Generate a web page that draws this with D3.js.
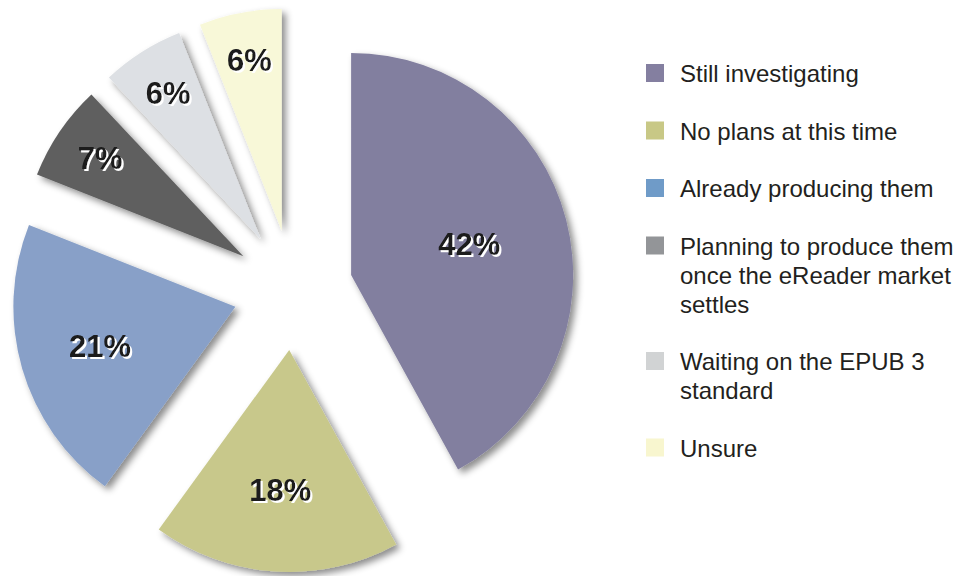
<!DOCTYPE html>
<html>
<head>
<meta charset="utf-8">
<script src="https://cdn.jsdelivr.net/npm/d3@7"></script>
<style>
  html, body { margin: 0; padding: 0; background: #ffffff; }
  svg { display: block; }
</style>
</head>
<body>
<svg id="chart" width="971" height="576"></svg>
<script>
// Survey answers, in drawing order (clockwise from 12 o'clock)
const categories = [
  "Still investigating",
  "No plans at this time",
  "Already producing them",
  "Planning to produce them once the eReader market settles",
  "Waiting on the EPUB 3 standard",
  "Unsure"
];
const values = [42, 18, 21, 7, 6, 6];
const valueLabels = ["42%", "18%", "21%", "7%", "6%", "6%"];
// Legend text, pre-wrapped into lines
const legendLines = [
  ["Still investigating"],
  ["No plans at this time"],
  ["Already producing them"],
  ["Planning to produce them", "once the eReader market", "settles"],
  ["Waiting on the EPUB 3", "standard"],
  ["Unsure"]
];
const sliceColors  = ["#827f9f", "#c8c88b", "#88a0c8", "#5f5f5f", "#dde0e4", "#f8f8d8"];
const legendColors = ["#847fa0", "#c8c886", "#6f9bc8", "#939598", "#d1d3d4", "#f8f6cf"];

const svg = d3.select("#chart");
const cx = 293, cy = 290;
const radius = 222;
const explode = 60;

const defs = svg.append("defs");
// Soft drop shadow under each wedge
const f = defs.append("filter").attr("id", "wedgeShadow")
  .attr("x", "-20%").attr("y", "-20%").attr("width", "140%").attr("height", "140%");
f.append("feDropShadow")
  .attr("dx", 4).attr("dy", 4).attr("stdDeviation", 3.5)
  .attr("flood-color", "#000").attr("flood-opacity", 0.45);
// Crisp white offset behind the percentage labels
const tf = defs.append("filter").attr("id", "labelShadow")
  .attr("x", "-10%").attr("y", "-10%").attr("width", "120%").attr("height", "120%");
tf.append("feDropShadow")
  .attr("dx", 2).attr("dy", 2).attr("stdDeviation", 0)
  .attr("flood-color", "#ffffff").attr("flood-opacity", 1);

const pie = d3.pie().sort(null).value(d => d)
  .startAngle(0).endAngle(2 * Math.PI);
const arcs = pie(values);
const arc = d3.arc().innerRadius(0).outerRadius(radius);

const g = svg.append("g").attr("transform", `translate(${cx},${cy})`);

function offsetOf(d) {
  const mid = (d.startAngle + d.endAngle) / 2;
  return [Math.sin(mid) * explode, -Math.cos(mid) * explode];
}

const slices = g.selectAll("g.slice").data(arcs).join("g")
  .attr("class", "slice")
  .attr("transform", d => { const o = offsetOf(d); return `translate(${o[0]},${o[1]})`; });

slices.append("path")
  .attr("d", arc)
  .attr("fill", (d, i) => sliceColors[i])
  .attr("filter", "url(#wedgeShadow)");

// Narrow wedges carry their label farther out
function labelRadius(v) {
  if (v >= 30) return radius * 0.55;
  if (v >= 10) return radius * 0.635;
  return radius * 0.78;
}
const labelPos = d => d3.arc()
  .innerRadius(labelRadius(d.data)).outerRadius(labelRadius(d.data)).centroid(d);

const labelFont = "'Liberation Sans', Arial, Helvetica, sans-serif";
slices.append("text")
  .attr("x", d => labelPos(d)[0])
  .attr("y", d => labelPos(d)[1])
  .attr("text-anchor", "middle")
  .attr("dominant-baseline", "central")
  .attr("font-family", labelFont)
  .attr("font-weight", "bold")
  .attr("font-size", 31)
  .attr("fill", "#1a1a1a")
  .attr("filter", "url(#labelShadow)")
  .text((d, i) => valueLabels[i]);

// Legend
const legend = svg.append("g").attr("class", "legend");
const lineH = 29, itemGap = 57.5;
let baseline = 82;
categories.forEach((c, i) => {
  const item = legend.append("g");
  item.append("rect")
    .attr("x", 646).attr("y", baseline - 18)
    .attr("width", 18).attr("height", 18)
    .attr("fill", legendColors[i]);
  const t = item.append("text")
    .attr("font-family", labelFont)
    .attr("font-size", 24)
    .attr("fill", "#231f20");
  legendLines[i].forEach((ln, j) => {
    t.append("tspan").attr("x", 680).attr("y", baseline + j * lineH).text(ln);
  });
  baseline += (legendLines[i].length - 1) * lineH + itemGap;
});
</script>
</body>
</html>
